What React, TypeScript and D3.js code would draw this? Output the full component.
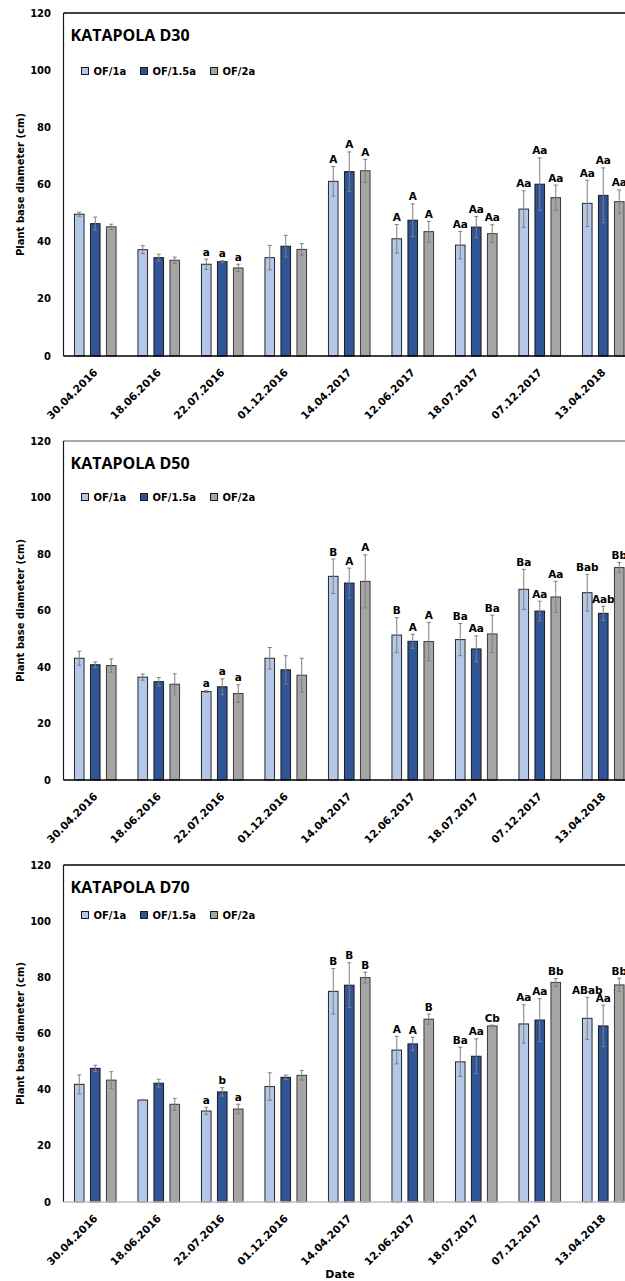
import React from "react";
import * as d3 from "d3";

// Sampling dates and treatments
const dates = [
  "30.04.2016", "18.06.2016", "22.07.2016", "01.12.2016", "14.04.2017",
  "12.06.2017", "18.07.2017", "07.12.2017", "13.04.2018",
];
const treatments = ["OF/1a", "OF/1.5a", "OF/2a"];
const yTicks = [0, 20, 40, 60, 80, 100, 120];

// KATAPOLA D30 — means, standard errors, significance letters
const d30Mean = [
  [49.6, 37.2, 32.1, 34.4, 61.1, 41.0, 38.8, 51.4, 53.4],
  [46.3, 34.4, 33.0, 38.4, 64.5, 47.5, 45.1, 60.1, 56.2],
  [45.2, 33.5, 30.8, 37.3, 64.8, 43.5, 42.8, 55.4, 54.0],
];
const d30Err = [
  [0.7, 1.4, 1.8, 4.3, 5.2, 5.0, 4.8, 6.4, 8.1],
  [2.3, 1.2, 0.3, 3.8, 6.9, 5.7, 3.7, 9.2, 9.6],
  [0.9, 1.1, 1.3, 2.0, 4.0, 3.6, 3.1, 4.4, 4.1],
];
const d30Letters = [
  ["", "", "a", "", "A", "A", "Aa", "Aa", "Aa"],
  ["", "", "a", "", "A", "A", "Aa", "Aa", "Aa"],
  ["", "", "a", "", "A", "A", "Aa", "Aa", "Aa"],
];

// KATAPOLA D50
const d50Mean = [
  [43.1, 36.4, 31.3, 43.1, 72.1, 51.3, 49.7, 67.5, 66.3],
  [40.8, 34.8, 33.0, 39.0, 69.7, 49.1, 46.4, 59.8, 59.0],
  [40.5, 33.9, 30.6, 37.1, 70.3, 49.0, 51.7, 64.8, 75.2],
];
const d50Err = [
  [2.5, 1.1, 0.3, 3.8, 6.1, 6.2, 5.7, 7.1, 6.5],
  [1.0, 1.5, 2.8, 5.0, 5.3, 2.5, 4.6, 3.5, 2.5],
  [2.4, 3.7, 3.1, 6.0, 9.4, 6.8, 6.6, 5.5, 1.8],
];
const d50Letters = [
  ["", "", "a", "", "B", "B", "Ba", "Ba", "Bab"],
  ["", "", "a", "", "A", "A", "Aa", "Aa", "Aab"],
  ["", "", "a", "", "A", "A", "Ba", "Aa", "Bb"],
];

// KATAPOLA D70
const d70Mean = [
  [41.9, 36.3, 32.4, 41.1, 75.0, 54.1, 49.9, 63.4, 65.4],
  [47.6, 42.3, 39.2, 44.4, 77.2, 56.3, 51.9, 64.8, 62.7],
  [43.4, 34.8, 33.1, 45.1, 79.9, 65.1, 62.7, 78.2, 77.3],
];
const d70Err = [
  [3.4, 0.2, 1.3, 4.9, 8.1, 4.9, 5.2, 6.8, 7.5],
  [1.1, 1.4, 1.5, 0.8, 8.0, 2.4, 6.2, 7.6, 7.4],
  [3.0, 2.1, 1.7, 1.7, 1.9, 1.8, 0.3, 1.4, 2.4],
];
const d70Letters = [
  ["", "", "a", "", "B", "A", "Ba", "Aa", "ABab"],
  ["", "", "b", "", "B", "A", "Aa", "Aa", "Aa"],
  ["", "", "a", "", "B", "B", "Cb", "Bb", "Bb"],
];

const fills = ["#b4c7e7", "#2f5597", "#a5a5a5"];
const strokes = ["#262626", "#1a1a1a", "#3a3a3a"];

const W = 625;
const H = 1281;
const LEFT = 63.5;
const BAND = 63.5;
const SMALL = "'DejaVu Sans', sans-serif";
const TITLE = "'Open Sans', sans-serif";

type PanelProps = {
  title: string;
  mean: number[][];
  err: number[][];
  letters: string[][];
  top: number;
  bottom: number;
  legendDy: number;
  frameColor: string;
  axisColor: string;
};

function Panel({ title, mean, err, letters, top, bottom, legendDy, frameColor, axisColor }: PanelProps) {
  const x = d3
    .scaleBand<string>()
    .domain(dates)
    .range([LEFT, LEFT + BAND * dates.length])
    .padding(0);
  const bw = x.bandwidth();
  const xs = d3
    .scaleBand<string>()
    .domain(treatments)
    .range([bw / 2 - 24, bw / 2 + 24])
    .paddingInner(0.4)
    .paddingOuter(0.2);
  const y = d3.scaleLinear().domain([0, 120]).range([bottom, top]);
  const legendX = [LEFT + 18, LEFT + 77, LEFT + 147];

  return (
    <g>
      {/* gridless frame: top border and left axis */}
      <line x1={LEFT} x2={W} y1={top} y2={top} stroke={frameColor} strokeWidth={1.5} />
      <line x1={LEFT} x2={LEFT} y1={top} y2={bottom} stroke="#1a1a1a" strokeWidth={1.2} />

      {/* y tick labels */}
      {yTicks.map((t) => (
        <text
          key={t}
          x={51}
          y={y(t)}
          dy="0.36em"
          textAnchor="end"
          fontFamily={SMALL}
          fontWeight="bold"
          fontSize={10}
          fill="#000"
        >
          {t}
        </text>
      ))}

      {/* y axis title */}
      <text
        transform={`translate(24,${(top + bottom) / 2}) rotate(-90)`}
        textAnchor="middle"
        fontFamily={SMALL}
        fontWeight="bold"
        fontSize={10}
        fill="#000"
      >
        Plant base diameter (cm)
      </text>

      {/* bars, error bars and letters */}
      {dates.map((d, i) => (
        <g key={d} transform={`translate(${x(d)},0)`}>
          {treatments.map((s, k) => {
            const v = mean[k][i];
            const e = err[k][i];
            const bx = xs(s) as number;
            const cx = bx + xs.bandwidth() / 2;
            return (
              <g key={s}>
                <rect
                  x={bx}
                  y={y(v)}
                  width={xs.bandwidth()}
                  height={y(0) - y(v)}
                  fill={fills[k]}
                  stroke={strokes[k]}
                  strokeWidth={1}
                />
                <line x1={cx} x2={cx} y1={y(v - e)} y2={y(v + e)} stroke="#7f7f7f" strokeWidth={1} />
                <line x1={cx - 2} x2={cx + 2} y1={y(v - e)} y2={y(v - e)} stroke="#7f7f7f" strokeWidth={1} />
                <line x1={cx - 2} x2={cx + 2} y1={y(v + e)} y2={y(v + e)} stroke="#7f7f7f" strokeWidth={1} />
                {letters[k][i] && (
                  <text
                    x={cx}
                    y={y(v + e) - 3.5}
                    textAnchor="middle"
                    fontFamily={SMALL}
                    fontWeight="bold"
                    fontSize={10.5}
                    fill="#000"
                  >
                    {letters[k][i]}
                  </text>
                )}
              </g>
            );
          })}
          {/* rotated date label */}
          <text
            transform={`translate(${bw / 2 + 3},${bottom + 17}) rotate(-45)`}
            textAnchor="end"
            fontFamily={SMALL}
            fontWeight="bold"
            fontSize={10.5}
            fill="#000"
          >
            {d}
          </text>
        </g>
      ))}

      {/* x axis baseline */}
      <line x1={LEFT} x2={W} y1={bottom} y2={bottom} stroke={axisColor} strokeWidth={1.5} />

      {/* panel title */}
      <text x={LEFT + 7} y={top + 28} fontFamily={TITLE} fontWeight="bold" fontSize={16} fill="#000">
        {title}
      </text>

      {/* legend */}
      {treatments.map((s, k) => (
        <g key={s} transform={`translate(${legendX[k]},${top + legendDy})`}>
          <rect x={0} y={-3.5} width={7} height={7} fill={fills[k]} stroke="#1a1a1a" strokeWidth={1} />
          <text x={12} y={0} dy="0.36em" fontFamily={SMALL} fontWeight="bold" fontSize={10} fill="#000">
            {s}
          </text>
        </g>
      ))}
    </g>
  );
}

export default function App() {
  return (
    <svg
      width={W}
      height={H}
      viewBox={`0 0 ${W} ${H}`}
      style={{ position: "absolute", left: 0, top: 0, background: "#fff" }}
    >
      <rect width={W} height={H} fill="#fff" />
      <Panel
        title="KATAPOLA D30"
        mean={d30Mean}
        err={d30Err}
        letters={d30Letters}
        top={13}
        bottom={356}
        legendDy={58}
        frameColor="#000"
        axisColor="#000"
      />
      <Panel
        title="KATAPOLA D50"
        mean={d50Mean}
        err={d50Err}
        letters={d50Letters}
        top={441}
        bottom={780}
        legendDy={56}
        frameColor="#8c8c8c"
        axisColor="#000"
      />
      <Panel
        title="KATAPOLA D70"
        mean={d70Mean}
        err={d70Err}
        letters={d70Letters}
        top={865}
        bottom={1202}
        legendDy={50}
        frameColor="#000"
        axisColor="#bfbfbf"
      />
      <text
        x={340}
        y={1278}
        textAnchor="middle"
        fontFamily={SMALL}
        fontWeight="bold"
        fontSize={11}
        fill="#000"
      >
        Date
      </text>
    </svg>
  );
}
